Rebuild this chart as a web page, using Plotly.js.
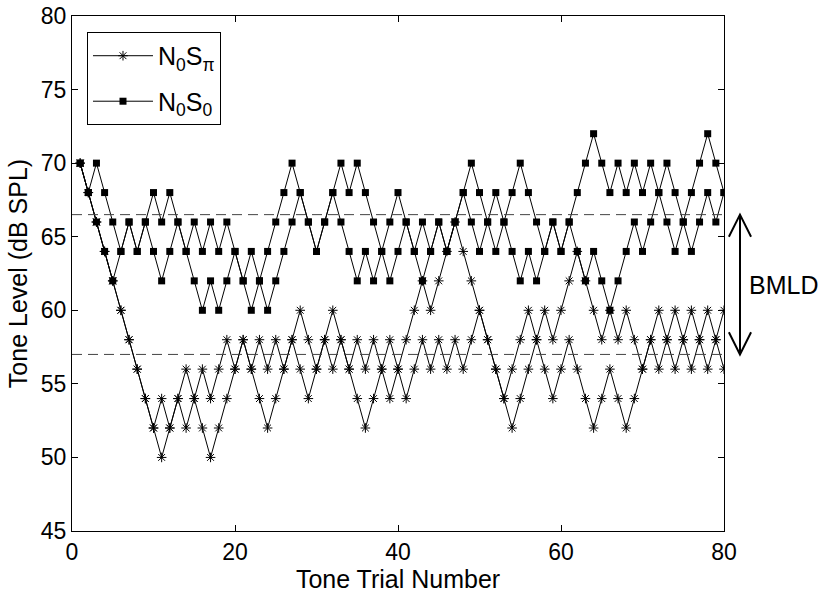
<!DOCTYPE html>
<html>
<head>
<meta charset="utf-8">
<script src="https://cdn.plot.ly/plotly-3.0.1.min.js"></script>
<style>html,body{margin:0;padding:0;background:#fff;}</style>
</head>
<body>
<div id="chart" style="width:819px;height:593px;"></div>
<script>
const trials = [1,2,3,4,5,6,7,8,9,10,11,12,13,14,15,16,17,18,19,20,
  21,22,23,24,25,26,27,28,29,30,31,32,33,34,35,36,37,38,39,40,
  41,42,43,44,45,46,47,48,49,50,51,52,53,54,55,56,57,58,59,60,
  61,62,63,64,65,66,67,68,69,70,71,72,73,74,75,76,77,78,79,80];

// N0S0 condition: two interleaved tracks
const n0s0_trackA = [70,68,70,68,66,64,66,64,66,68,66,68,66,64,66,64,66,64,66,64,
  62,64,62,64,66,68,70,68,66,64,66,68,70,68,70,68,66,64,66,68,
  66,64,66,64,66,64,66,68,70,68,66,68,66,68,70,68,66,64,66,64,
  66,68,70,72,70,68,70,68,70,68,70,68,70,68,66,68,70,72,70,68];
const n0s0_trackB = [70,68,66,64,62,64,66,64,66,64,62,64,66,64,62,60,62,60,62,64,
  62,60,62,60,62,64,66,68,66,64,66,68,66,64,62,64,62,64,62,64,
  66,64,62,64,66,64,66,68,66,64,66,64,66,64,62,64,62,64,66,64,
  66,64,62,64,62,60,62,64,66,64,66,68,66,64,66,64,66,68,66,68];

// N0Spi condition: two interleaved tracks
const n0spi_trackA = [70,68,66,64,62,60,58,56,54,52,54,52,54,56,54,56,54,56,58,56,
  58,56,58,56,58,56,58,60,58,56,58,60,58,56,58,56,58,56,58,56,
  58,60,62,60,62,64,66,64,62,60,58,56,54,56,58,60,58,60,58,60,
  62,64,62,60,58,60,58,60,58,56,58,60,58,60,58,60,58,60,58,60];
const n0spi_trackB = [70,68,66,64,62,60,58,56,54,52,50,52,54,52,54,52,50,52,54,56,
  58,56,54,52,54,56,58,56,54,56,58,56,58,56,54,52,54,56,54,56,
  54,56,58,56,58,56,58,56,58,60,58,56,54,52,54,56,58,56,54,56,
  58,56,54,52,54,56,54,52,54,56,58,56,58,56,58,56,58,56,58,56];

// threshold estimates (dashed lines) and annotation
const thresholdN0S0 = 66.5;
const thresholdN0Spi = 57;
const xTicks = [0,20,40,60,80];
const yTicks = [45,50,55,60,65,70,75,80];

const FONT = 'Arial, "Liberation Sans", Helvetica, sans-serif';
const lineStyle = {color:'#000', width:1};
const starMarker = {symbol:'asterisk-open', size:8, color:'#000', line:{color:'#000', width:1}};
const squareMarker = {symbol:'square', size:7, color:'#000'};

const traces = [
  {x:trials, y:n0spi_trackA, mode:'lines+markers', name:'N<sub>0</sub>S<sub>π</sub>',
   legendgroup:'pi', line:lineStyle, marker:starMarker},
  {x:trials, y:n0spi_trackB, mode:'lines+markers', name:'N0Spi B', showlegend:false,
   legendgroup:'pi', line:lineStyle, marker:starMarker},
  {x:trials, y:n0s0_trackA, mode:'lines+markers', name:'N<sub>0</sub>S<sub>0</sub>',
   legendgroup:'s0', line:lineStyle, marker:squareMarker},
  {x:trials, y:n0s0_trackB, mode:'lines+markers', name:'N0S0 B', showlegend:false,
   legendgroup:'s0', line:lineStyle, marker:squareMarker}
];

const yMin = 45, yMax = 80;
const toPaperY = v => (v - yMin) / (yMax - yMin);
const arrowX = 1.0245, headW = 0.017, headH = 0.043;
const yTop = toPaperY(thresholdN0S0), yBot = toPaperY(thresholdN0Spi);

const shapes = [
  {type:'line', xref:'x', yref:'y', x0:0, x1:80, y0:thresholdN0S0, y1:thresholdN0S0,
   line:{color:'#444', width:1, dash:'10px,6px'}},
  {type:'line', xref:'x', yref:'y', x0:0, x1:80, y0:thresholdN0Spi, y1:thresholdN0Spi,
   line:{color:'#444', width:1, dash:'10px,6px'}},
  {type:'line', xref:'paper', yref:'paper', x0:arrowX, x1:arrowX, y0:yBot, y1:yTop,
   line:{color:'#000', width:2}},
  {type:'path', xref:'paper', yref:'paper',
   path:`M${arrowX-headW},${yTop-headH} L${arrowX},${yTop} L${arrowX+headW},${yTop-headH}`,
   line:{color:'#000', width:2}},
  {type:'path', xref:'paper', yref:'paper',
   path:`M${arrowX-headW},${yBot+headH} L${arrowX},${yBot} L${arrowX+headW},${yBot+headH}`,
   line:{color:'#000', width:2}}
];

const layout = {
  width:819, height:593,
  margin:{l:72, r:95, t:16, b:62},
  paper_bgcolor:'#fff', plot_bgcolor:'#fff',
  font:{family:FONT, color:'#000', size:23},
  showlegend:true,
  legend:{x:0.023, y:0.969, xanchor:'left', yanchor:'top',
    bordercolor:'#000', borderwidth:1, bgcolor:'#fff', itemwidth:60,
    font:{family:FONT, size:25, color:'#000'}},
  xaxis:{range:[0,80], tickvals:xTicks, ticktext:xTicks.map(String),
    showline:true, mirror:'ticks', ticks:'inside', ticklen:6, linecolor:'#000', linewidth:1,
    tickcolor:'#000', showgrid:false, zeroline:false,
    tickfont:{family:FONT, size:23},
    title:{text:'Tone Trial Number', font:{family:FONT, size:25}, standoff:10}},
  yaxis:{range:[yMin,yMax], tickvals:yTicks, ticktext:yTicks.map(String),
    showline:true, mirror:'ticks', ticks:'inside', ticklen:6, linecolor:'#000', linewidth:1,
    tickcolor:'#000', showgrid:false, zeroline:false,
    tickfont:{family:FONT, size:23},
    title:{text:'Tone Level (dB SPL)', font:{family:FONT, size:25}, standoff:6}},
  shapes:shapes,
  annotations:[
    {xref:'paper', yref:'y', x:1.036, y:61.7, xanchor:'left', yanchor:'middle',
     text:'BMLD', showarrow:false, font:{family:FONT, size:25, color:'#000'}}
  ]
};

Plotly.newPlot('chart', traces, layout, {displayModeBar:false, staticPlot:true});
</script>
</body>
</html>
